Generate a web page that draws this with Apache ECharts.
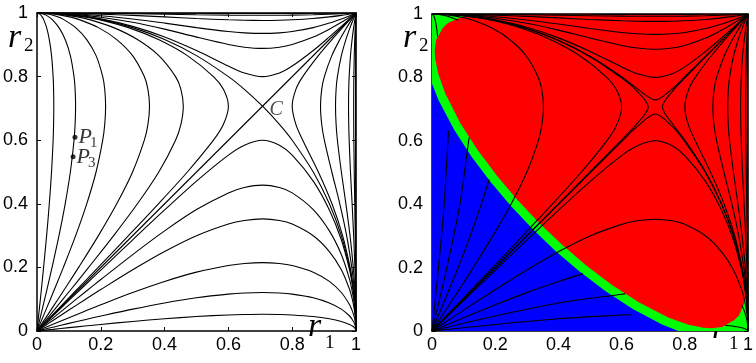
<!DOCTYPE html>
<html><head><meta charset="utf-8">
<script src="https://cdn.jsdelivr.net/npm/echarts/dist/echarts.min.js"></script>
<style>html,body{margin:0;padding:0;background:#fff}#c{width:756px;height:363px}</style>
</head><body><div id="c"></div>
<script>
// sample abscissae used by all trajectories
const R = [0,0.02,0.05,0.1,0.15,0.2,0.3,0.4,0.5,0.6,0.65,0.707,0.76,0.8,0.866,0.9165,0.954,0.98,0.9887,0.995,0.99875,0.9998,1];
// lower branches (curves from (0,0) to (1,0)) and upper branches (curves from (0,1) to (1,1))
const LO105=[0,.0021,.0052,.0105,.0156,.0206,.0301,.0385,.0455,.0505,.0519,.0526,.0519,.0505,.0455,.0385,.0301,.0206,.0156,.0105,.0052,.0021,0];
const HI105=[1,1,1,.9999,.9999,.9998,.9995,.9993,.999,.9987,.9987,.9986,.9987,.9987,.999,.9993,.9995,.9998,.9999,.9999,1,1,1];
const LO24=[0,.0048,.012,.0239,.0356,.0471,.0689,.0883,.1045,.116,.1194,.1209,.1194,.116,.1045,.0883,.0689,.0471,.0356,.0239,.012,.0048,0];
const HI24=[1,1,.9999,.9997,.9994,.9989,.9976,.9961,.9945,.9933,.9929,.9927,.9929,.9933,.9945,.9961,.9976,.9989,.9994,.9997,.9999,1,1];
const LO42=[0,.0084,.021,.0418,.0624,.0826,.1211,.1559,.1851,.206,.2123,.215,.2123,.206,.1851,.1559,.1211,.0826,.0624,.0418,.021,.0084,0];
const HI42=[1,1,.9998,.9991,.998,.9966,.9926,.9878,.9827,.9786,.9772,.9766,.9772,.9786,.9827,.9878,.9926,.9966,.998,.9991,.9998,1,1];
const LO66=[0,.0132,.033,.0658,.0984,.1304,.1925,.2499,.2996,.3364,.3477,.3527,.3477,.3364,.2996,.2499,.1925,.1304,.0984,.0658,.033,.0132,0];
const HI66=[1,.9999,.9995,.9978,.9952,.9915,.9813,.9683,.9541,.9417,.9376,.9358,.9376,.9417,.9541,.9683,.9813,.9915,.9952,.9978,.9995,.9999,1];
const LO815=[0,.0163,.0407,.0814,.1218,.1618,.2403,.3148,.3818,.4343,.4511,.4586,.4511,.4343,.3818,.3148,.2403,.1618,.1218,.0814,.0407,.0163,0];
const HI815=[1,.9999,.9992,.9967,.9926,.9868,.9707,.9492,.9242,.9008,.8925,.8887,.8925,.9008,.9242,.9492,.9707,.9868,.9926,.9967,.9992,.9999,1];
const LO96=[0,.0192,.048,.096,.1439,.1917,.2868,.3806,.4713,.5531,.5844,.6,.5844,.5531,.4713,.3806,.2868,.1917,.1439,.096,.048,.0192,0];
const HI96=[1,.9998,.9989,.9954,.9896,.9815,.958,.9247,.882,.8331,.8115,.8,.8115,.8331,.882,.9247,.958,.9815,.9896,.9954,.9989,.9998,1];
const LO998=[0,.02,.0499,.0998,.1497,.1996,.2993,.399,.4985,.5973,.6453,.6844,.6453,.5973,.4985,.399,.2993,.1996,.1497,.0998,.0499,.02,0];
const HI998=[1,.9998,.9988,.995,.9887,.9799,.9542,.9169,.8669,.802,.7639,.7291,.7639,.802,.8669,.9169,.9542,.9799,.9887,.995,.9988,.9998,1];
// separatrices
const CIRC=[1,.9998,.99875,.995,.9887,.98,.954,.9165,.866,.8,.76,.707,.65,.6,.5,.4,.3,.2,.15,.1,.05,.02,0];
const DIAG=[[0,0],[1,1]];
// marked points
const P_POINTS=[[0.119,0.609],[0.113,0.548]];
const P_SUBS=['1','3'];
const SADDLE=[[0.707,0.707]];
// right panel: truncated fan segments from the origin (lower side; upper side is their mirror)
const SEG_B105=[[0,0],[0.2,0.0206],[0.4,0.0385],[0.6,0.0505],[0.632,0.052]];
const SEG_B24=[[0,0],[0.2,0.0471],[0.4,0.0883],[0.6,0.116],[0.611,0.118]];
const SEG_B42=[[0,0],[0.2,0.0826],[0.3,0.1211],[0.4,0.1559],[0.478,0.181]];
// right panel: short pieces near the corner (1,0) (mirrored near (0,1))
const REM1=[[0.928,0.018],[0.965,0.0132],[0.99,0.0073],[0.999,0.0023],[1,0]];
const REM2=[[0.98,0.083],[0.99,0.059],[0.998,0.0265],[1,0]];
// right panel regions: blue/green edge and green/red edge (left edge -> bottom edge)
const GREEN_EDGE=[[0,0.78],[0.0208,0.728],[0.0696,0.6353],[0.1253,0.5496],[0.1861,0.4689],[0.2511,0.3925],[0.32,0.32],[0.3925,0.2511],[0.4689,0.1861],[0.5496,0.1253],[0.6353,0.0696],[0.728,0.0208],[0.78,0]];
const RED_EDGE=[[0.16,1],[0.12,0.996],[0.083,0.986],[0.05,0.972],[0.034,0.956],[0.0129,0.918],[0.0086,0.8855],[0.0101,0.8587],[0.0197,0.8116],[0.042,0.7491],[0.0898,0.6556],[0.1454,0.5697],[0.2062,0.489],[0.2712,0.4126],[0.3401,0.3401],
  [0.4126,0.2712],[0.489,0.2062],[0.5697,0.1454],[0.6556,0.0898],[0.7491,0.042],[0.8116,0.0197],[0.8587,0.0101],[0.8855,0.0086],[0.918,0.0129],[0.956,0.034],[0.972,0.05],[0.986,0.083],[0.996,0.12],[1,0.16]];
const SQUARE=[[0,0],[1,0],[1,1],[0,1]];

const pairs=(xs,ys)=>xs.map((x,i)=>[x,ys[i]]);
const swap=d=>d.map(p=>[p[1],p[0]]);

const axisLine={show:true,onZero:false,lineStyle:{color:'#000',width:1.5}};
const tick={show:true,inside:true,length:4,lineStyle:{color:'#000',width:1}};
const lab={color:'#000',fontSize:18,fontFamily:'Liberation Sans'};
function xAx(gi,pos){return {gridIndex:gi,type:'value',min:0,max:1,interval:0.2,position:pos,axisLine,axisTick:tick,
  axisLabel:pos==='bottom'?Object.assign({margin:5},lab):{show:false},splitLine:{show:false}};}
function yAx(gi,pos){return {gridIndex:gi,type:'value',min:0,max:1,interval:0.2,position:pos,axisLine,axisTick:tick,
  axisLabel:pos==='left'?Object.assign({margin:9},lab):{show:false},splitLine:{show:false}};}

function ln(gi,data){return {type:'line',xAxisIndex:gi*2,yAxisIndex:gi*2,data,showSymbol:false,symbol:'none',smooth:0.3,
  lineStyle:{color:'#000',width:1.1},silent:true,clip:true,z:3};}
function poly(gi,pts,color){return {type:'custom',xAxisIndex:gi*2,yAxisIndex:gi*2,data:[[0,0]],clip:true,silent:true,z:1,
  renderItem:(p,api)=>({type:'polygon',shape:{points:pts.map(q=>api.coord(q))},style:{fill:color}})};}

const series=[];
// left panel
[[LO105,HI105],[LO24,HI24],[LO42,HI42],[LO66,HI66],[LO815,HI815],[LO96,HI96]].forEach(([lo,hi])=>{
  series.push(ln(0,pairs(R,lo)),ln(0,pairs(R,hi)),ln(0,pairs(lo,R)),ln(0,pairs(hi,R)));
});
series.push(ln(0,DIAG),ln(0,pairs(R,CIRC)));
series.push({type:'scatter',xAxisIndex:0,yAxisIndex:0,data:P_POINTS,symbolSize:5,itemStyle:{color:'#000'},silent:true,z:5,
  label:{show:true,position:'right',distance:1,formatter:'P',fontFamily:'Liberation Serif',fontStyle:'italic',fontSize:22,color:'#000'}});
series.push({type:'scatter',xAxisIndex:0,yAxisIndex:0,data:P_POINTS,symbolSize:0,silent:true,z:5,
  label:{show:true,position:'right',distance:15,offset:[0,6],formatter:p=>P_SUBS[p.dataIndex],fontFamily:'Liberation Serif',fontSize:15,color:'#000'}});
series.push({type:'scatter',xAxisIndex:0,yAxisIndex:0,data:SADDLE,symbolSize:0,silent:true,z:5,
  label:{show:true,position:'right',distance:7,offset:[0,4],formatter:'C',fontFamily:'Liberation Serif',fontStyle:'italic',fontSize:20,color:'#222'}});
// right panel
series.push(poly(1,SQUARE,'#0000ff'),poly(1,GREEN_EDGE.concat([[1,0],[1,1],[0,1]]),'#00ff00'),poly(1,RED_EDGE.concat([[1,1]]),'#ff0000'));
[SEG_B105,SEG_B24,SEG_B42,REM1,REM2].forEach(s=>{series.push(ln(1,s),ln(1,swap(s)));});
[LO66,LO96,LO998].forEach(lo=>{series.push(ln(1,pairs(R,lo)),ln(1,pairs(lo,R)));});
[HI105,HI24,HI42,HI66,HI815,HI96,HI998].forEach(hi=>{series.push(ln(1,pairs(R,hi)),ln(1,pairs(hi,R)));});

const chart=echarts.init(document.getElementById('c'),null,{renderer:'canvas'});
const txt=(x,y,t,size,italic)=>({type:'text',x,y,silent:true,style:{text:t,fill:'#000',
  font:(italic?'italic ':'')+size+'px "Liberation Serif"',textAlign:'left',textVerticalAlign:'middle',align:'left',verticalAlign:'middle'}});
chart.setOption({
  animation:false,
  grid:[{left:37,top:13,width:319,height:318},{left:432,top:14,width:316,height:317}],
  xAxis:[xAx(0,'bottom'),xAx(0,'top'),xAx(1,'bottom'),xAx(1,'top')],
  yAxis:[yAx(0,'left'),yAx(0,'right'),yAx(1,'left'),yAx(1,'right')],
  graphic:[
    txt(8,38,'r',34,true),txt(24,46,'2',19,false),
    txt(308,327,'r',34,true),txt(325,343,'1',19,false),
    txt(403,38,'r',34,true),txt(419,46,'2',19,false),
    txt(712,329,'r',34,true),txt(729,344,'1',19,false)
  ],
  series
});
</script></body></html>
